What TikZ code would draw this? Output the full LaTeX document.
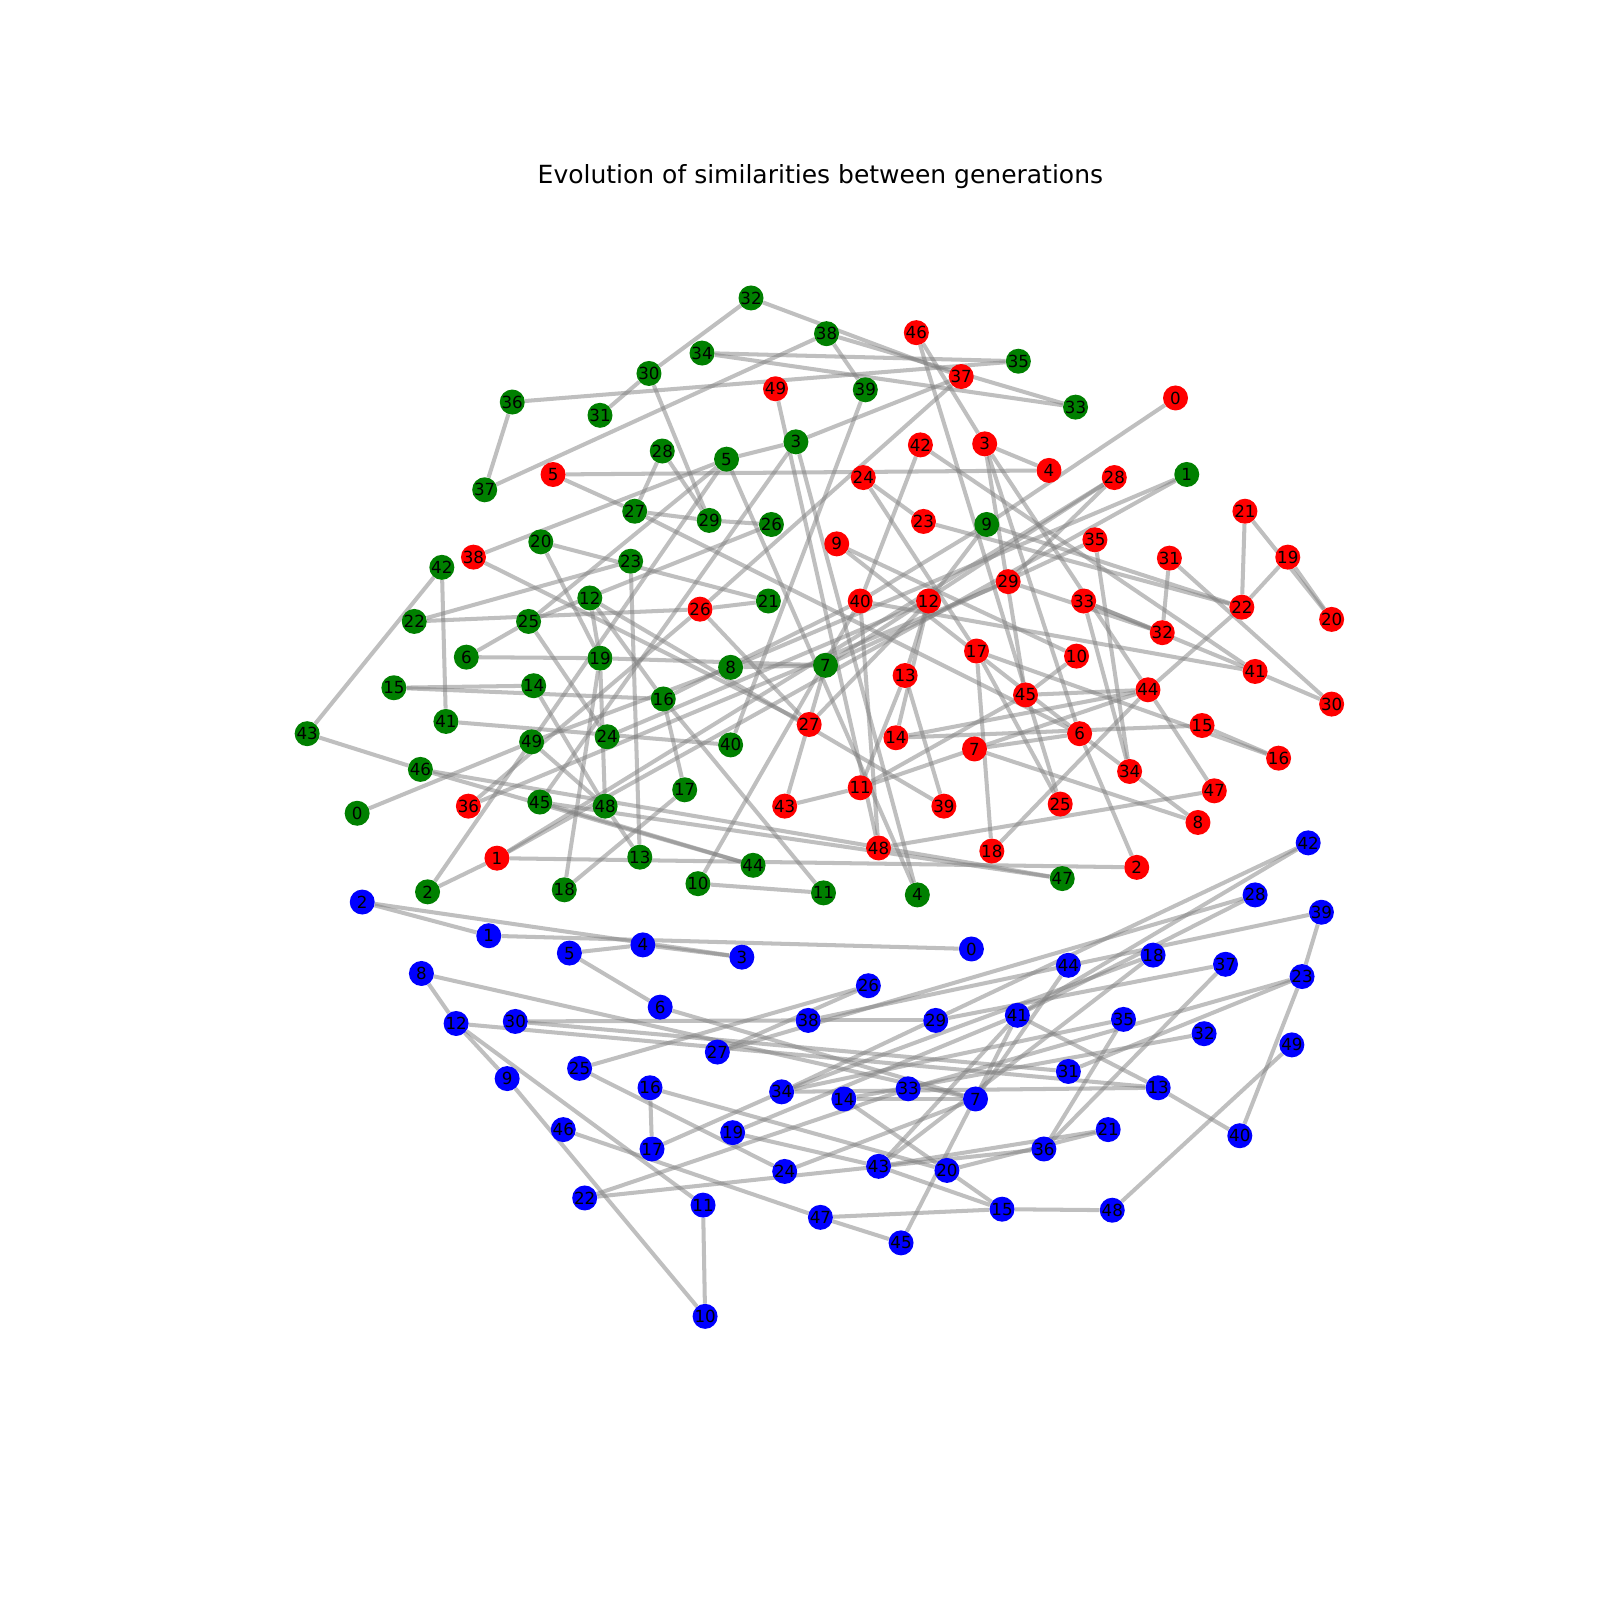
\documentclass[tikz,border=0pt]{standalone}
\usepackage{fontspec}
\setmainfont{DejaVu Sans}
\usetikzlibrary{backgrounds}
\definecolor{ng}{RGB}{0,128,0}
\definecolor{nr}{RGB}{255,0,0}
\definecolor{nb}{RGB}{0,0,255}
\definecolor{eg}{RGB}{128,128,128}
\begin{document}
\begin{tikzpicture}[x=0.73476pt,y=-0.73476pt,
  nd/.style={circle,inner sep=0pt,minimum size=18pt,font=\fontsize{12}{14}\selectfont,text=black},
  gn/.style={nd,fill=ng},
  rn/.style={nd,fill=nr},
  bn/.style={nd,fill=nb},
  ed/.style={draw=eg,opacity=0.5,line width=2.9pt}]
\useasboundingbox (0,0) rectangle (1568,1568);
\node[anchor=base,font=\fontsize{18}{22}\selectfont] (title) at (804,180) {Evolution of similarities between generations};
% green
\foreach \n/\x/\y in {0/350/797,1/1163/465,2/419/874,3/780/433,4/899/877,5/712/450,6/457/644,7/809/652,8/716/654,9/967/514,10/684/866,11/807/875,12/578/586,13/627/840,14/523/672,15/386/674,16/650/685,17/671/774,18/553/872,19/588/645,20/530/531,21/753/589,22/406/609,23/618/550,24/595/722,25/518/609,26/756/514,27/622/501,28/649/442,29/695/510,30/636/366,31/588/407,32/736/292,33/1054/399,34/688/346,35/998/354,36/502/394,37/475/480,38/810/327,39/848/382,40/716/730,41/437/707,42/433/556,43/301/719,44/738/848,45/529/786,46/412/754,47/1041/861,48/593/790,49/521/727}
  \node[gn] (g\n) at (\x,\y) {\n};
% red
\foreach \n/\x/\y in {0/1152/390,1/487/841,2/1114/850,3/965/435,4/1028/461,5/542/465,6/1058/719,7/955/734,8/1174/806,9/820/533,10/1055/643,11/843/772,12/910/589,13/887/662,14/878/723,15/1178/711,16/1253/743,17/957/638,18/972/834,19/1262/546,20/1305/607,21/1220/501,22/1217/595,23/905/511,24/846/468,25/1039/788,26/686/597,27/793/710,28/1092/468,29/988/570,30/1305/690,31/1146/547,32/1139/620,33/1062/589,34/1107/756,35/1073/529,36/459/790,37/942/369,38/464/546,39/925/790,40/843/589,41/1230/658,42/902/436,43/769/790,44/1125/676,45/1005/681,46/898/326,47/1190/775,48/861/831,49/760/381}
  \node[rn] (r\n) at (\x,\y) {\n};
% blue
\foreach \n/\x/\y in {0/952/930,1/479/917,2/355/884,3/727/938,4/630/926,5/558/934,6/647/987,7/956/1077,8/413/954,9/497/1057,10/691/1290,11/689/1181,12/447/1003,13/1135/1066,14/827/1077,15/982/1185,16/637/1066,17/639/1126,18/1130/936,19/718/1110,20/928/1147,21/1086/1107,22/573/1174,23/1276/957,24/769/1148,25/568/1047,26/851/966,27/703/1031,28/1230/877,29/917/1000,30/505/1001,31/1047/1050,32/1180/1013,33/890/1067,34/766/1070,35/1101/999,36/1023/1126,37/1201/945,38/792/1000,39/1295/894,40/1215/1113,41/997/995,42/1282/826,43/861/1143,44/1047/946,45/883/1218,46/552/1107,47/804/1193,48/1090/1186,49/1266/1024}
  \node[bn] (b\n) at (\x,\y) {\n};
\begin{scope}[on background layer]
\fill[white] (0,0) rectangle (1568,1568);
\foreach \a/\b in {g32/g30,g32/r37,g38/g37,g38/g39,g38/g33,g34/g35,g34/g33,g36/g35,g36/g37,g30/g31,g30/g29,g39/g40,g3/r37,g3/g5,g3/g4,g3/g45,g5/r38,g5/g25,g5/g4,g28/g27,g28/g29,r5/g27,g27/g29,g29/g26,g27/r6,g25/g26,g20/g21,g20/g19,g42/g43,g42/g41,g22/g23,g22/r26,r26/g21,g6/g25,g6/g19,g19/g7,g8/g7,g15/g14,g15/g16,g14/g48,g41/g40,g49/g0,r36/r26,g49/g48,g49/g8,g25/g24,g23/g13,g12/g19,g19/g48,g12/g16,g16/g11,g12/r39,g16/g17,g17/g18,g19/g18,g16/r40,g10/r40,g10/g11,g13/g48,g2/r1,g2/g5,r1/r2,g43/g46,g46/g44,g45/g44,g46/g47,g45/g47,r36/r29,r1/r28,r1/g1,r46/r3,r46/r25,r37/r26,r49/r48,r0/g9,r42/r40,r42/r41,r40/r41,r3/r4,r3/r6,r3/r45,r3/r44,r5/r4,r24/r23,r24/r17,r23/r22,g9/r22,r21/r20,r19/r20,r21/r22,r19/r22,r22/r44,r31/r32,r31/r30,r41/r30,r29/r32,r33/r32,r33/r41,r33/r34,r35/r34,r35/g7,r28/r29,r15/r16,r17/r16,r14/r15,r7/r6,r7/r8,r34/r8,r34/r6,r6/r2,r17/r18,r17/r25,r45/r44,r45/r10,r45/r11,r11/r44,r44/r47,r44/r18,r14/r44,r48/r47,r9/r10,r9/r6,r12/r13,r12/r14,r13/r11,r13/r39,r43/r11,r43/g7,r26/r27,r38/r27,r27/r12,g9/r12,g9/r40,g1/g8,r28/g7,g24/r12,r40/r48}
  \draw[ed] (\a) -- (\b);
\foreach \a/\b in {b2/b1,b2/b3,b4/b3,b1/b0,b5/b4,b5/b6,b6/b7,b8/b12,b8/b7,b12/b9,b12/b11,b9/b10,b11/b10,b46/b47,b16/b17,b16/b20,b17/b34,b25/b26,b27/b26,b25/b24,b12/b13,b30/b38,b38/b29,b30/b31,b22/b33,b22/b36,b19/b41,b34/b18,b34/b42,b34/b13,b14/b7,b14/b20,b24/b7,b43/b41,b43/b18,b43/b15,b43/b21,b20/b15,b20/b21,b45/b41,b47/b15,b47/b45,b15/b48,b48/b49,b40/b13,b40/b23,b39/b23,b39/b38,b41/b13,b42/b41,b28/b27,b28/b41,b36/b37,b36/b35,b44/b7,b33/b23,b14/b32,b31/b23,b34/b35,b19/b43,b29/b37}
  \draw[ed] (\a) -- (\b);
\end{scope}
\end{tikzpicture}
\end{document}
